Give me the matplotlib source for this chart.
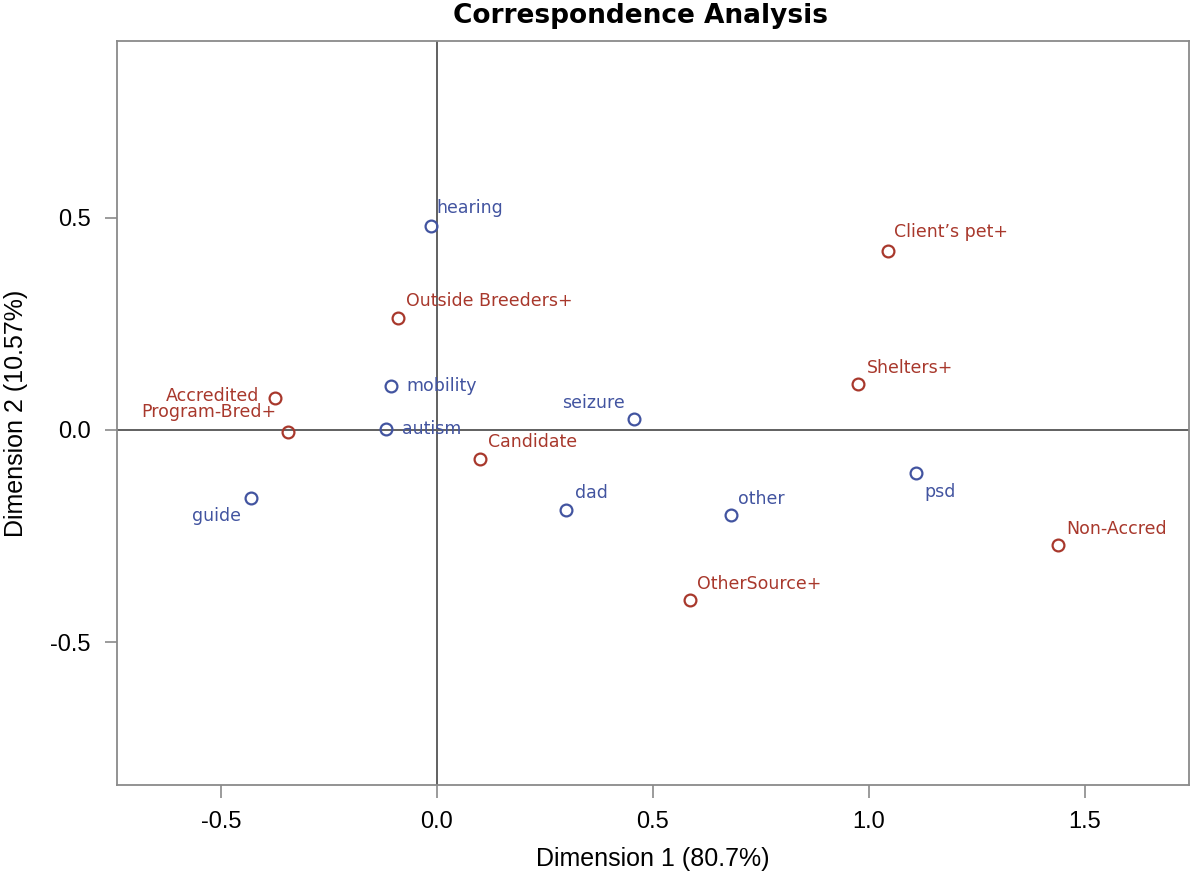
import matplotlib
matplotlib.use('Agg')
import matplotlib.pyplot as plt

plt.rcParams['font.family'] = ['Liberation Sans', 'DejaVu Sans']

# column points (blue) and row points (red)
col_names = ['hearing', 'mobility', 'autism', 'seizure', 'guide', 'dad', 'other', 'psd']
col_dim1 = [-0.014, -0.107, -0.117, 0.456, -0.430, 0.299, 0.682, 1.108]
col_dim2 = [0.482, 0.104, 0.003, 0.026, -0.160, -0.188, -0.201, -0.101]

row_names = ['Client\u2019s pet+', 'Outside Breeders+', 'Shelters+', 'Accredited',
             'Program-Bred+', 'Candidate', 'Non-Accred', 'OtherSource+']
row_dim1 = [1.044, -0.089, 0.976, -0.375, -0.345, 0.100, 1.437, 0.585]
row_dim2 = [0.421, 0.263, 0.109, 0.076, -0.005, -0.068, -0.270, -0.402]

# label placement (pixel offsets, alignment)
col_pos = {'hearing': (6, 18, 'left'), 'mobility': (16, 0, 'left'),
           'autism': (16, 0, 'left'), 'seizure': (-9, 16, 'right'),
           'guide': (-10, -18, 'right'), 'dad': (9, 17, 'left'),
           'other': (7, 16, 'left'), 'psd': (9, -19, 'left')}
row_pos = {'Client\u2019s pet+': (6, 19, 'left'), 'Outside Breeders+': (8, 17, 'left'),
           'Shelters+': (8, 16, 'left'), 'Accredited': (-16, 2, 'right'),
           'Program-Bred+': (-11, 20, 'right'), 'Candidate': (8, 17, 'left'),
           'Non-Accred': (9, 16, 'left'), 'OtherSource+': (7, 16, 'left')}

blue = '#4254a0'
red = '#a8382c'

fig = plt.figure(figsize=(11.92, 8.77), dpi=100)
ax = fig.add_axes([0.0982, 0.1049, 0.8993, 0.8483])

ax.axhline(0, color='#606060', lw=1.4, zorder=1)
ax.axvline(0, color='#606060', lw=1.4, zorder=1)

ax.plot(col_dim1, col_dim2, 'o', mfc='none', mec=blue, ms=8.5, mew=1.6, zorder=3)
ax.plot(row_dim1, row_dim2, 'o', mfc='none', mec=red, ms=8.5, mew=1.6, zorder=3)

def put_labels(names, xs, ys, pos, color):
    for n, x, y in zip(names, xs, ys):
        dx, dy, ha = pos[n]
        ax.annotate(n, (x, y), xytext=(dx, dy), textcoords='offset pixels',
                    ha=ha, va='center', color=color, fontsize=12.5,
                    fontfamily='DejaVu Sans', zorder=4)

put_labels(col_names, col_dim1, col_dim2, col_pos, blue)
put_labels(row_names, row_dim1, row_dim2, row_pos, red)

ax.set_xlim(-0.74, 1.741)
ax.set_ylim(-0.837, 0.917)
ax.set_xticks([-0.5, 0.0, 0.5, 1.0, 1.5])
ax.set_yticks([-0.5, 0.0, 0.5])
ax.xaxis.set_major_formatter(matplotlib.ticker.FormatStrFormatter('%.1f'))
ax.yaxis.set_major_formatter(matplotlib.ticker.FormatStrFormatter('%.1f'))
ax.tick_params(direction='out', length=9, width=1.2, color='#8a8a8a',
               labelsize=17, pad=10)
for s in ax.spines.values():
    s.set_color('#8a8a8a')
    s.set_linewidth(1.3)

ax.set_xlabel('Dimension 1 (80.7%)', fontsize=18, labelpad=10)
ax.set_ylabel('Dimension 2 (10.57%)', fontsize=18, labelpad=16)
ax.set_title('Correspondence Analysis', fontsize=19, fontweight='bold',
             fontfamily='DejaVu Sans', pad=13, x=0.488)

fig.savefig('out.png', dpi=100)
